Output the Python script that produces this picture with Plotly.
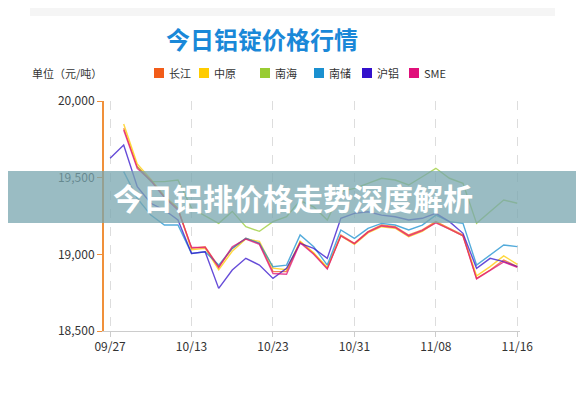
import plotly.graph_objects as go

dates = ["09/27","09/28","10/09","10/10","10/11","10/12","10/13","10/16","10/17","10/18","10/19","10/20",
         "10/23","10/24","10/25","10/26","10/27","10/30","10/31","11/01","11/02","11/03","11/06","11/07",
         "11/08","11/09","11/10","11/13","11/14","11/15","11/16"]
tick_labels = ["09/27","10/13","10/23","10/31","11/08","11/16"]

changjiang = [None,19822,19572,19485,19376,19300,19039,19050,18919,19039,19104,19072,18887,18887,19082,19006,18909,19126,19072,19148,19191,19180,19126,19159,19213,19170,19126,18843,18898,18963,18920]
zhongyuan = [None,19850,19590,19490,19380,19300,19030,19040,18900,19020,19100,19085,18910,18900,19085,19010,18915,19120,19065,19140,19180,19170,19115,19150,19210,19165,19120,18860,18920,18990,18935]
nanhai = [None,None,19572,19474,19474,19485,19300,19250,19202,19280,19180,19150,19213,19245,19350,19310,19224,19409,19430,19463,19496,19485,19452,19506,19561,19496,19463,19202,19278,19354,19333]
nanchu = [None,19539,19365,19256,19191,19191,19006,19017,18930,19039,19104,19072,18919,18930,19126,19050,18930,19159,19104,19169,19202,19191,19159,19191,19256,19213,19202,18930,18996,19061,19050]
hulv = [19626,19713,19441,19333,19289,19224,19006,19017,18778,18898,18974,18930,18843,18909,19072,19039,18974,19235,19267,19278,19256,19245,19224,19235,19267,19213,19137,18909,18974,18952,18920]
sme = [None,19810,19560,19480,19370,19290,19045,19045,18915,19050,19100,19065,18875,18870,19075,19000,18905,19120,19070,19145,19185,19175,19120,19155,19205,19165,19120,18840,18895,18950,18915]

series = [("长江", changjiang, "#f25c19"), ("中原", zhongyuan, "#ffcc00"), ("南海", nanhai, "#99cc33"),
          ("南储", nanchu, "#1a90d0"), ("沪铝", hulv, "#3311cc"), ("SME", sme, "#e0107a")]

fig = go.Figure()
for name, vals, col in series:
    fig.add_trace(go.Scatter(x=list(range(len(dates))), y=vals, name=name, mode="lines",
                             line=dict(color=col, width=1.4), opacity=0.75))

OFF = 8  # page body margin
W, H = 584, 400
L, R, T, B = 104 - OFF, 64 + OFF, 101 - OFF, 69 + OFF
pw, ph = W - L - R, H - T - B
def px(x): return (x - OFF - L) / pw
def py(y): return (H - B - (y - OFF)) / ph

tickvals = [dates.index(t) for t in tick_labels]
fig.update_layout(
    width=W, height=H, margin=dict(l=L, r=R, t=T, b=B, autoexpand=False),
    paper_bgcolor="white", plot_bgcolor="white", showlegend=False,
    font=dict(family="Noto Sans CJK SC", size=12, color="#333"),
    xaxis=dict(range=[-0.45, 30.2], tickvals=tickvals, ticktext=tick_labels, showgrid=True,
               gridcolor="#dddddd", griddash="dash", showline=True, linecolor="#cccccc",
               ticks="outside", tickcolor="#cccccc", zeroline=False, tickfont=dict(size=12, color="#333")),
    yaxis=dict(range=[18500, 20000], dtick=500, tickformat=",", showgrid=False, showline=True,
               linecolor="#f0903a", linewidth=2, ticks="outside", tickcolor="#f0903a", zeroline=False,
               tickfont=dict(size=12, color="#333")),
)
fig.add_shape(type="rect", xref="paper", yref="paper", x0=px(30), x1=px(555), y0=py(16), y1=py(OFF),
              fillcolor="#f5f5f5", line=dict(width=0), layer="below")
fig.add_annotation(text="<b>今日铝锭价格行情</b>", xref="paper", yref="paper", x=px(262), y=py(38),
                   xanchor="center", yanchor="middle", showarrow=False, font=dict(size=24, color="#1a88d8"))
fig.add_annotation(text="单位（元/吨）", xref="paper", yref="paper", x=px(30), y=py(73), xanchor="left",
                   yanchor="middle", showarrow=False, font=dict(size=11, color="#333"))
leg_x = [154, 199, 260, 314, 362, 409]
for (name, _, col), lx in zip(series, leg_x):
    fig.add_shape(type="rect", xref="paper", yref="paper", x0=px(lx), x1=px(lx + 10), y0=py(78), y1=py(68),
                  fillcolor=col, line=dict(width=0))
    fig.add_annotation(text=name, xref="paper", yref="paper", x=px(lx + 13), y=py(73), xanchor="left",
                       yanchor="middle", showarrow=False, font=dict(size=11, color="#333"))
fig.add_shape(type="rect", xref="paper", yref="paper", x0=px(OFF), x1=px(584), y0=py(223), y1=py(171),
              fillcolor="rgba(120,165,175,0.75)", line=dict(width=0), layer="above")
fig.add_annotation(text="<b>今日铝排价格走势深度解析</b>", xref="paper", yref="paper", x=px(111), y=py(197),
                   xanchor="left", yanchor="middle", showarrow=False,
                   font=dict(size=30, color="white", family="Noto Sans CJK SC"))
fig.write_html("out.html")
